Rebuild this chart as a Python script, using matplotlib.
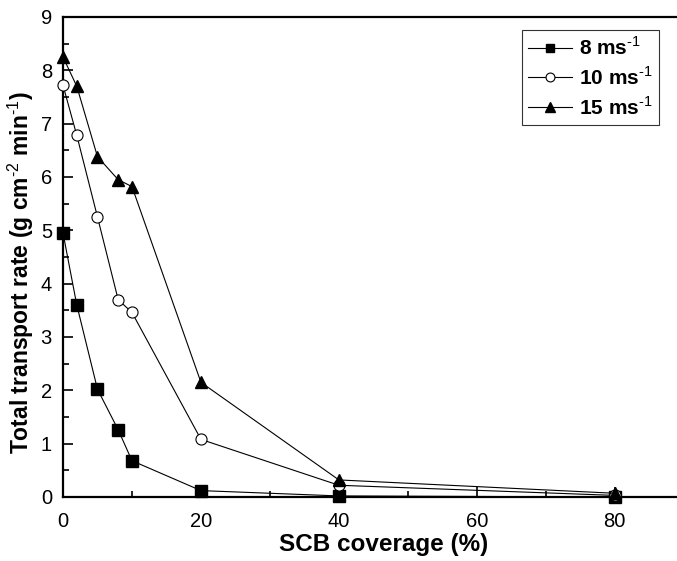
import matplotlib
matplotlib.use("Agg")
import matplotlib.pyplot as plt
from matplotlib.ticker import MultipleLocator

plt.rcParams['font.family'] = ['Liberation Sans', 'DejaVu Sans']
plt.rcParams['mathtext.fontset'] = 'custom'
plt.rcParams['mathtext.bf'] = 'Liberation Sans:bold'
plt.rcParams['mathtext.rm'] = 'Liberation Sans'

coverage = [0, 2, 5, 8, 10, 20, 40, 80]
rate_8 = [4.95, 3.6, 2.02, 1.26, 0.68, 0.12, 0.02, 0.0]
rate_10 = [7.72, 6.78, 5.25, 3.7, 3.46, 1.08, 0.22, 0.03]
rate_15 = [8.25, 7.7, 6.38, 5.95, 5.82, 2.15, 0.32, 0.07]
labels = [r'8 ms$^{\text{-1}}$', r'10 ms$^{\text{-1}}$', r'15 ms$^{\text{-1}}$']

W, H = 677, 561
fig = plt.figure(figsize=(W / 100, H / 100), dpi=100)
x0, x1 = 63, 681
y0, y1 = 497, 17
ax = fig.add_axes([x0 / W, 1 - y0 / H, (x1 - x0) / W, (y0 - y1) / H])

lw = 0.8
ax.plot(coverage, rate_8, '-', color='black', lw=lw, marker='s', ms=8,
        mfc='black', mec='black', label=labels[0], clip_on=False, zorder=3)
ax.plot(coverage, rate_10, '-', color='black', lw=lw, marker='o', ms=8,
        mfc='white', mec='black', mew=0.8, label=labels[1], clip_on=False, zorder=3)
ax.plot(coverage, rate_15, '-', color='black', lw=lw, marker='^', ms=9,
        mfc='black', mec='black', label=labels[2], clip_on=False, zorder=3)

ax.set_xlim(0, 89.6)
ax.set_ylim(0, 9)
ax.xaxis.set_major_locator(MultipleLocator(20))
ax.xaxis.set_minor_locator(MultipleLocator(10))
ax.yaxis.set_major_locator(MultipleLocator(1))
ax.yaxis.set_minor_locator(MultipleLocator(0.5))
ax.tick_params(which='both', direction='in', top=False, right=False, labelsize=14.5)
ax.tick_params(axis='x', which='major', pad=11)
ax.tick_params(axis='y', which='major', pad=8)
ax.tick_params(which='major', length=7, width=1.2)
ax.tick_params(which='minor', length=4, width=1.2)
for s in ax.spines.values():
    s.set_linewidth(1.6)

ax.set_xlabel('SCB coverage (%)', fontsize=17.5, fontweight='bold')
ax.set_ylabel(r'Total transport rate (g cm$^{\text{-2}}$ min$^{\text{-1}}$)',
              fontsize=16.5, fontweight='bold')
ax.xaxis.set_label_coords(384 / W, 1 - 545 / H, transform=fig.transFigure)
ax.xaxis.label.set_va('center')
ax.yaxis.set_label_coords(21 / W, 1 - 273 / H, transform=fig.transFigure)
ax.yaxis.label.set_va('center')

leg = ax.legend(loc='upper left', bbox_to_anchor=((522 - x0) / (x1 - x0), (y0 - 30) / (y0 - y1)),
                prop={'weight': 'bold', 'size': 15}, frameon=True, fancybox=False,
                edgecolor='black', handlelength=2.1, handletextpad=0.35, borderpad=0.3,
                labelspacing=0.35, borderaxespad=0, markerscale=0.8)
leg.get_frame().set_linewidth(0.8)

fig.savefig('out.png', dpi=100)
